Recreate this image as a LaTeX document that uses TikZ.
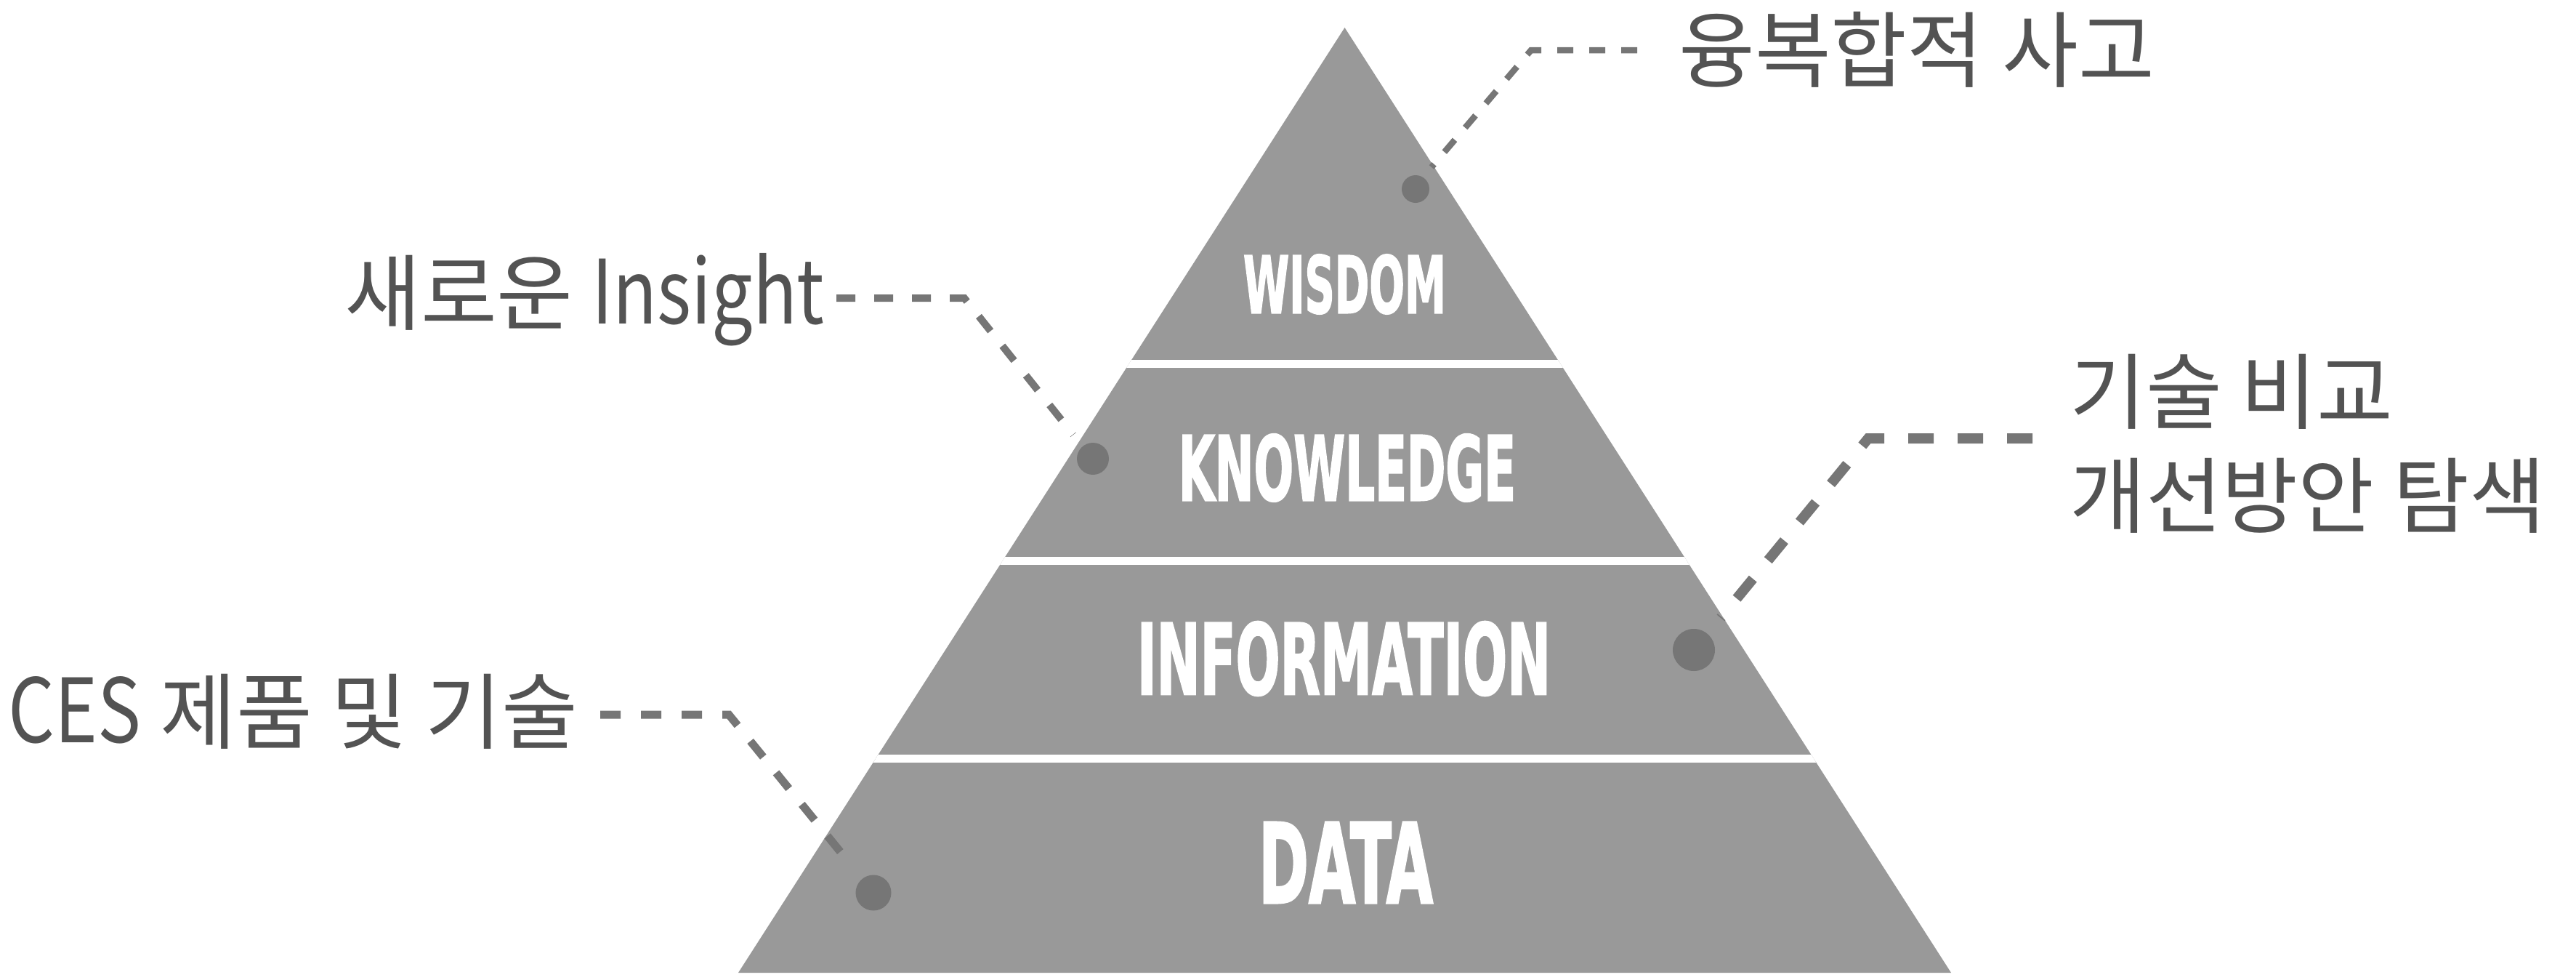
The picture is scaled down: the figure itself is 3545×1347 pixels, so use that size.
\documentclass[tikz,border=0pt]{standalone}
\usepackage{fontspec}
\usepackage{graphicx}
\newfontfamily\kr{Noto Sans CJK KR}
\IfFontExistsTF{DejaVu Sans Condensed Bold}
  {\newfontfamily\pyr{DejaVu Sans Condensed Bold}[FakeBold=2]}
  {\newfontfamily\pyr{DejaVu Sans Bold}[FakeBold=2]}
\newcommand{\lat}[1]{\scalebox{0.88}[1.07]{#1}}
\definecolor{tri}{HTML}{999999}
\definecolor{dotc}{HTML}{767676}
\definecolor{txt}{HTML}{535353}
\begin{document}
\begin{tikzpicture}[x=1pt,y=-1pt,
  lbl/.style={text=txt, inner sep=0pt, font=\kr\fontsize{114}{136}\selectfont},
  dotnode/.style={circle, fill=dotc, draw=none, inner sep=0pt, minimum size=#1},
  ptxt/.style={text=white, inner sep=0pt, anchor=center},
  conn/.style={draw=dotc, line width=#1},
]
\useasboundingbox[fill=white] (0,0) rectangle (3545,1347);
% pyramid
\fill[tri] (1850.5,38) -- (2685,1338) -- (1016,1338) -- cycle;
\begin{scope}
  \clip (1850.5,38) -- (2685,1338) -- (1016,1338) -- cycle;
  \draw[white, line width=11pt] (1000,500.5) -- (2700,500.5);
  \draw[white, line width=11pt] (1000,771.5) -- (2700,771.5);
  \draw[white, line width=11pt] (1000,1043) -- (2700,1043);
\end{scope}
\node[ptxt] (wis) at (1850.5,391) {\resizebox*{279pt}{82pt}{\pyr WISDOM}};
\node[ptxt] (kno) at (1854,643.5) {\resizebox*{464pt}{93pt}{\pyr KNOWLEDGE}};
\node[ptxt] (inf) at (1849.5,906) {\resizebox*{569pt}{102pt}{\pyr INFORMATION}};
\node[ptxt] (dat) at (1852,1186.5) {\resizebox*{240pt}{111pt}{\pyr DATA}};
% dots
\node[dotnode=38pt] (dw) at (1948,260) {};
\node[dotnode=44pt] (dk) at (1504,631) {};
\node[dotnode=58pt] (di) at (2331,894) {};
\node[dotnode=49pt] (dd) at (1202,1228) {};
% labels
\node[lbl, anchor=base west] (lw) at (2310,111) {융복합적 사고};
\node[lbl, anchor=base east] (lk) at (1135,445) {새로운 \lat{Insight}};
\node[lbl, anchor=base east] (ld) at (796,1021) {\lat{CES} 제품 및 기술};
\node[lbl, anchor=base west] (li1) at (2848,581) {기술 비교};
\node[lbl, anchor=base west] (li2) at (2848,724) {개선방안 탐색};
% connector points
\coordinate (w1) at (2253,69);  \coordinate (w2) at (2107,69);  \coordinate (w3) at (1970,230);
\coordinate (k1) at (1151,410); \coordinate (k2) at (1327,410); \coordinate (k3) at (1477,598);
\coordinate (d1) at (826,983);  \coordinate (d2) at (1003,983); \coordinate (d3) at (1173,1192);
\coordinate (i1) at (2797,603); \coordinate (i2) at (2571,603); \coordinate (i3) at (2368,850);
\draw[conn=8.5pt, dash pattern=on 22pt off 22pt] (w1) -- (w2) -- (w3);
\draw[conn=10pt, dash pattern=on 26pt off 26pt] (k1) -- (k2) -- (k3);
\draw[conn=11pt, dash pattern=on 28pt off 28pt] (d1) -- (d2) -- (d3);
\draw[conn=14pt, dash pattern=on 35pt off 33pt] (i1) -- (i2) -- (i3);
\end{tikzpicture}
\end{document}
